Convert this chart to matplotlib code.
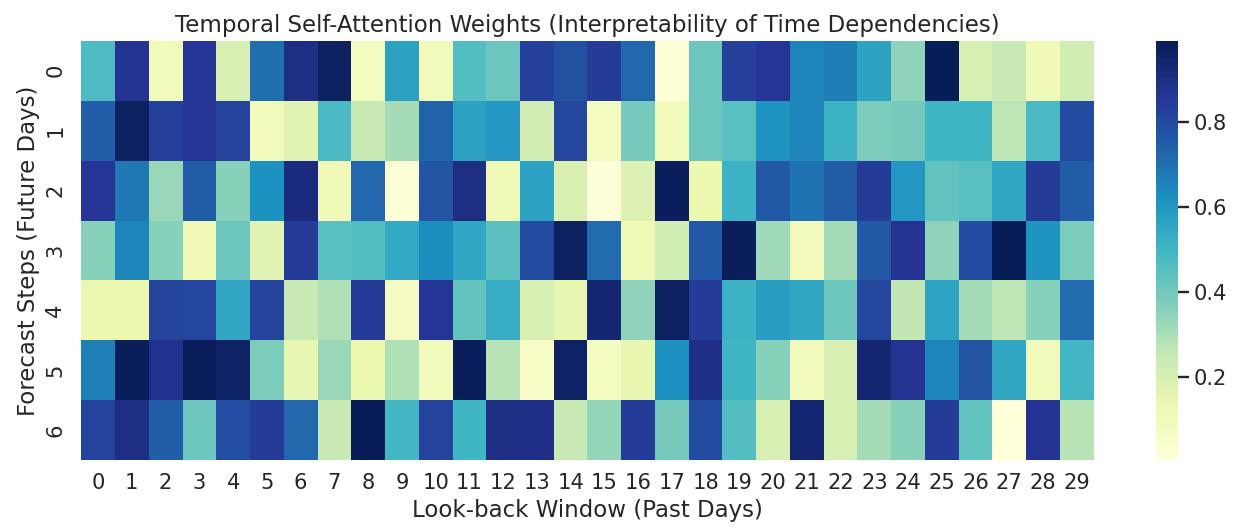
import numpy as np
import matplotlib
matplotlib.use("Agg")
import matplotlib.pyplot as plt
import seaborn as sns

forecast_steps = [0, 1, 2, 3, 4, 5, 6]
lookback_days = list(range(30))

row0 = [0.47, 0.87, 0.10, 0.86, 0.20, 0.70, 0.90, 0.97, 0.08, 0.57,
        0.10, 0.46, 0.41, 0.83, 0.78, 0.84, 0.72, 0.02, 0.41, 0.83,
        0.86, 0.65, 0.67, 0.57, 0.35, 0.99, 0.20, 0.25, 0.11, 0.22]
row1 = [0.74, 0.97, 0.83, 0.86, 0.82, 0.10, 0.17, 0.48, 0.25, 0.31,
        0.73, 0.57, 0.60, 0.22, 0.81, 0.08, 0.39, 0.10, 0.41, 0.45,
        0.61, 0.65, 0.51, 0.38, 0.39, 0.50, 0.50, 0.27, 0.48, 0.80]
row2 = [0.86, 0.68, 0.33, 0.75, 0.36, 0.62, 0.91, 0.11, 0.72, 0.02,
        0.77, 0.90, 0.11, 0.57, 0.19, 0.01, 0.18, 0.98, 0.13, 0.51,
        0.76, 0.69, 0.75, 0.84, 0.60, 0.43, 0.45, 0.55, 0.84, 0.75]
row3 = [0.36, 0.65, 0.36, 0.12, 0.41, 0.17, 0.84, 0.45, 0.46, 0.54,
        0.63, 0.55, 0.44, 0.80, 0.97, 0.71, 0.12, 0.22, 0.76, 0.98,
        0.32, 0.10, 0.31, 0.76, 0.87, 0.35, 0.80, 0.99, 0.61, 0.38]
row4 = [0.13, 0.13, 0.82, 0.81, 0.55, 0.82, 0.25, 0.29, 0.84, 0.07,
        0.86, 0.43, 0.53, 0.20, 0.15, 0.94, 0.35, 0.97, 0.84, 0.51,
        0.58, 0.55, 0.41, 0.81, 0.26, 0.56, 0.31, 0.27, 0.36, 0.71]
row5 = [0.66, 0.98, 0.88, 0.98, 0.96, 0.38, 0.15, 0.33, 0.13, 0.29,
        0.10, 0.98, 0.28, 0.06, 0.96, 0.08, 0.14, 0.62, 0.89, 0.50,
        0.36, 0.10, 0.20, 0.94, 0.87, 0.65, 0.77, 0.55, 0.10, 0.49]
row6 = [0.82, 0.90, 0.74, 0.41, 0.79, 0.84, 0.72, 0.25, 0.99, 0.49,
        0.82, 0.50, 0.90, 0.89, 0.25, 0.34, 0.84, 0.39, 0.80, 0.46,
        0.20, 0.94, 0.20, 0.31, 0.36, 0.84, 0.43, 0.005, 0.87, 0.28]

data = np.array([row0, row1, row2, row3, row4, row5, row6])

sns.set_theme(font_scale=1.375)
plt.rcParams['font.family'] = ['DejaVu Sans']
plt.rcParams['ytick.major.size'] = 8
plt.rcParams['ytick.major.width'] = 1.7

W, H = 1238, 532
fig = plt.figure(figsize=(W / 100, H / 100), dpi=100)
ax = fig.add_axes([81.3 / W, (H - 460.3) / H, 1012.4 / W, 419.6 / H])
cax = fig.add_axes([1156.3 / W, (H - 460.3) / H, 21.7 / W, 419.6 / H])

sns.heatmap(data, cmap="YlGnBu", ax=ax, cbar_ax=cax,
            xticklabels=lookback_days, yticklabels=forecast_steps)
ax.set_title("Temporal Self-Attention Weights (Interpretability of Time Dependencies)")
ax.set_xlabel("Look-back Window (Past Days)")
ax.set_ylabel("Forecast Steps (Future Days)")

fig.savefig("out.png", dpi=100)
